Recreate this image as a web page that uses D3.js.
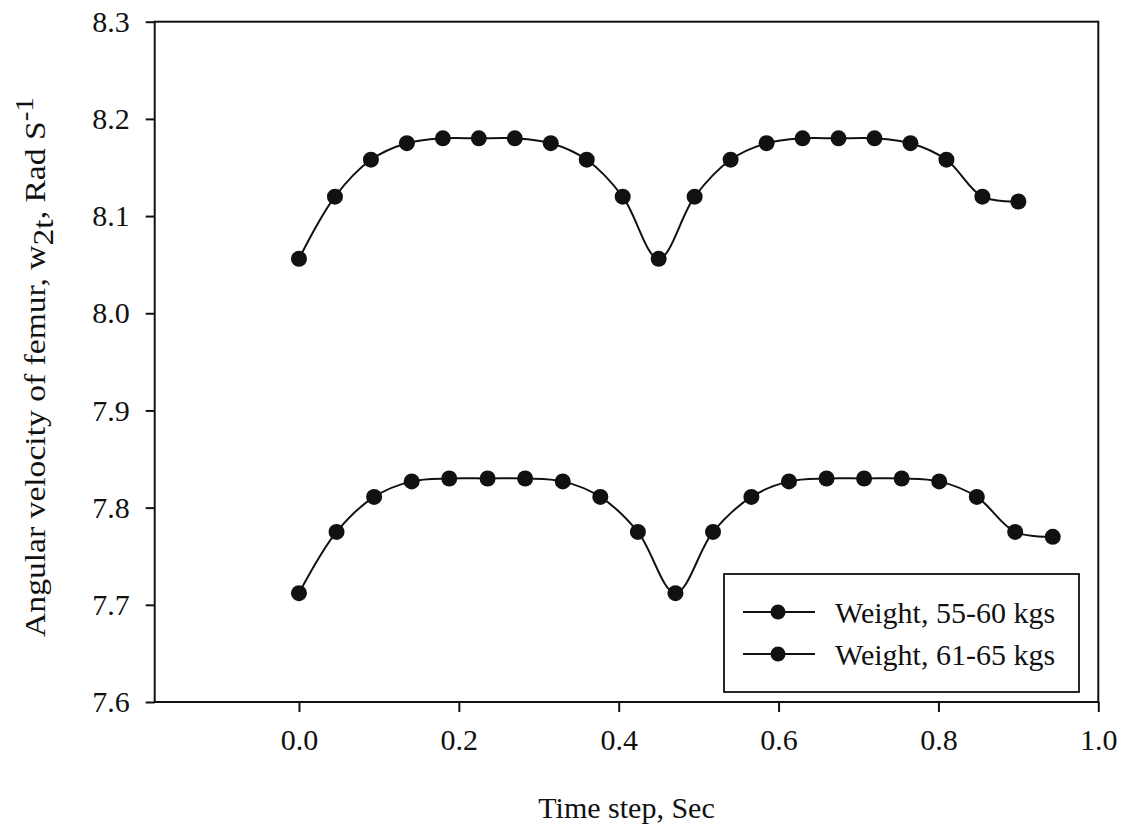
<!DOCTYPE html>
<html>
<head>
<meta charset="utf-8">
<script src="https://cdn.jsdelivr.net/npm/d3@7"></script>
<style>
  html, body { margin: 0; padding: 0; background: #fff; }
  svg { display: block; }
  text { font-family: "Liberation Serif", "Times New Roman", serif; fill: #111; }
</style>
</head>
<body>
<svg id="chart" width="1121" height="827"></svg>
<script>
// Time steps (s) and angular velocity of femur (rad/s) for two weight groups
const timeA = [0.000, 0.045, 0.090, 0.135, 0.180, 0.225, 0.270, 0.315, 0.360, 0.405, 0.450,
               0.495, 0.540, 0.585, 0.630, 0.675, 0.720, 0.765, 0.810, 0.855, 0.900];
const omegaA = [8.056, 8.120, 8.158, 8.175, 8.180, 8.180, 8.180, 8.175, 8.158, 8.120, 8.056,
                8.120, 8.158, 8.175, 8.180, 8.180, 8.180, 8.175, 8.158, 8.120, 8.115];

const timeB = [0.000, 0.047, 0.094, 0.141, 0.188, 0.236, 0.283, 0.330, 0.377, 0.424, 0.471,
               0.518, 0.566, 0.613, 0.660, 0.707, 0.754, 0.801, 0.848, 0.896, 0.943];
const omegaB = [7.712, 7.775, 7.811, 7.827, 7.830, 7.830, 7.830, 7.827, 7.811, 7.775, 7.712,
                7.775, 7.811, 7.827, 7.830, 7.830, 7.830, 7.827, 7.811, 7.775, 7.770];

const seriesNames = ["Weight, 55-60 kgs", "Weight, 61-65 kgs"];
const xTicks = [0.0, 0.2, 0.4, 0.6, 0.8, 1.0];
const yTicks = [7.6, 7.7, 7.8, 7.9, 8.0, 8.1, 8.2, 8.3];

const svg = d3.select("#chart");
const plotL = 154.7, plotR = 1098.3, plotT = 21.7, plotB = 702;
const fontSize = 30;

const x = d3.scaleLinear().domain([-0.1805, 1.0]).range([plotL, plotR]);
const y = d3.scaleLinear().domain([7.6, 8.3]).range([plotB, plotT]);

// frame
svg.append("rect")
  .attr("x", plotL).attr("y", plotT)
  .attr("width", plotR - plotL).attr("height", plotB - plotT)
  .attr("fill", "none").attr("stroke", "#111").attr("stroke-width", 2);

// x axis
const xAxis = svg.append("g")
  .attr("transform", `translate(0,${plotB})`)
  .call(d3.axisBottom(x).tickValues(xTicks).tickFormat(d3.format(".1f"))
        .tickSizeOuter(0).tickSizeInner(10).tickPadding(17));
xAxis.select(".domain").remove();
xAxis.selectAll("line").attr("stroke", "#111").attr("stroke-width", 2);
xAxis.selectAll("text").style("font-size", fontSize + "px")
  .style("font-family", "'Liberation Serif', serif").attr("fill", "#111");

// y axis
const yAxis = svg.append("g")
  .attr("transform", `translate(${plotL},0)`)
  .call(d3.axisLeft(y).tickValues(yTicks).tickFormat(d3.format(".1f"))
        .tickSizeOuter(0).tickSizeInner(9).tickPadding(16));
yAxis.select(".domain").remove();
yAxis.selectAll("line").attr("stroke", "#111").attr("stroke-width", 2);
yAxis.selectAll("text").style("font-size", fontSize + "px")
  .style("font-family", "'Liberation Serif', serif").attr("fill", "#111");

// axis titles
svg.append("text")
  .attr("x", (plotL + plotR) / 2).attr("y", 818)
  .attr("text-anchor", "middle")
  .style("font-size", fontSize + "px")
  .text("Time step, Sec");

const yTitle = svg.append("text")
  .attr("transform", `translate(45,367) rotate(-90) scale(1.12,1)`)
  .attr("text-anchor", "middle")
  .style("font-size", fontSize + "px");
yTitle.append("tspan").text("Angular velocity of femur, w");
yTitle.append("tspan").attr("dy", 8).text("2t");
yTitle.append("tspan").attr("dy", -8).text(", Rad S");
yTitle.append("tspan").attr("dy", -12).style("font-size", "26px").text("-1");

// series
const line = d3.line()
  .x(d => x(d[0])).y(d => y(d[1]))
  .curve(d3.curveCatmullRom.alpha(0.5));

const series = [
  { name: seriesNames[0], pts: timeA.map((t, i) => [t, omegaA[i]]) },
  { name: seriesNames[1], pts: timeB.map((t, i) => [t, omegaB[i]]) }
];

const plot = svg.append("g");
series.forEach(s => {
  plot.append("path")
    .attr("d", line(s.pts))
    .attr("fill", "none").attr("stroke", "#111").attr("stroke-width", 2);
  plot.selectAll(null).data(s.pts).enter().append("circle")
    .attr("cx", d => x(d[0])).attr("cy", d => y(d[1]))
    .attr("r", 8).attr("fill", "#111");
});

// legend
const lg = svg.append("g");
lg.append("rect")
  .attr("x", 724).attr("y", 574).attr("width", 355).attr("height", 118)
  .attr("fill", "none").attr("stroke", "#111").attr("stroke-width", 1.8);
series.forEach((s, i) => {
  const cy = 612 + i * 42;
  lg.append("line").attr("x1", 743).attr("x2", 815).attr("y1", cy).attr("y2", cy)
    .attr("stroke", "#111").attr("stroke-width", 2);
  lg.append("circle").attr("cx", 778).attr("cy", cy).attr("r", 7.5).attr("fill", "#111");
  lg.append("text").attr("x", 835).attr("y", cy + 10.5)
    .style("font-size", fontSize + "px").text(s.name);
});
</script>
</body>
</html>
